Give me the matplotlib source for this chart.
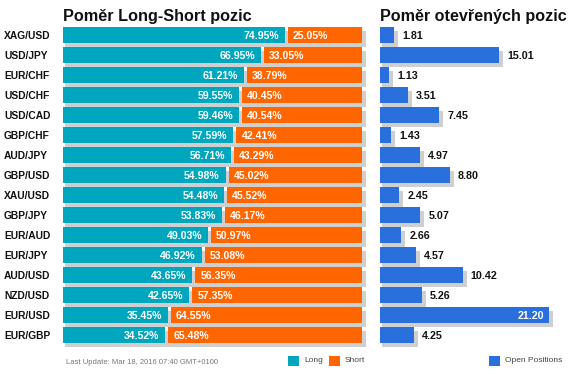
import matplotlib
matplotlib.use('Agg')
import matplotlib.pyplot as plt
from matplotlib.patches import Rectangle
from matplotlib.transforms import blended_transform_factory

plt.rcParams['font.family'] = ['Liberation Sans', 'DejaVu Sans']

pairs = ['XAG/USD', 'USD/JPY', 'EUR/CHF', 'USD/CHF', 'USD/CAD', 'GBP/CHF', 'AUD/JPY', 'GBP/USD',
         'XAU/USD', 'GBP/JPY', 'EUR/AUD', 'EUR/JPY', 'AUD/USD', 'NZD/USD', 'EUR/USD', 'EUR/GBP']
long_pct = [74.95, 66.95, 61.21, 59.55, 59.46, 57.59, 56.71, 54.98,
            54.48, 53.83, 49.03, 46.92, 43.65, 42.65, 35.45, 34.52]
short_pct = [25.05, 33.05, 38.79, 40.45, 40.54, 42.41, 43.29, 45.02,
             45.52, 46.17, 50.97, 53.08, 56.35, 57.35, 64.55, 65.48]
open_pos = [1.81, 15.01, 1.13, 3.51, 7.45, 1.43, 4.97, 8.80,
            2.45, 5.07, 2.66, 4.57, 10.42, 5.26, 21.20, 4.25]

TEAL = '#00A6BE'
ORANGE = '#FF6600'
BLUE = '#2A70DC'
SHADOW = '#CFCFCF'

W, H = 571, 374
fig = plt.figure(figsize=(W / 100, H / 100), dpi=100)

def px_axes(x0, y0, w, h):
    # axes placed in pixel coordinates (y measured from top)
    return fig.add_axes([x0 / W, 1 - (y0 + h) / H, w / W, h / H])

# left panel: 2.96 px per percent
sx_l = 2.96
axl = px_axes(63, 25, 307, 330)
axl.set_xlim(0, 307 / sx_l)
# right panel: 7.95 px per unit
sx_r = 7.95
axr = px_axes(380, 25, 185, 330)
axr.set_xlim(0, 185 / sx_r)
for ax in (axl, axr):
    ax.set_ylim(16.0, -0.5)
    ax.axis('off')

bh = 0.8
dy = 4 / 20  # shadow drop
gap = 3 / sx_l

for i, (lo, sh) in enumerate(zip(long_pct, short_pct)):
    axl.add_patch(Rectangle((2 / sx_l, i - bh / 2 + dy), lo + gap + sh + 2 / sx_l, bh,
                            color=SHADOW, lw=0))
    axl.barh(i, lo, height=bh, color=TEAL, lw=0)
    axl.barh(i, sh, left=lo + gap, height=bh, color=ORANGE, lw=0)
    axl.text(lo - 6 / sx_l, i + 0.03, f'{lo:.2f}%', color='white', fontsize=7.6,
             fontweight='bold', ha='right', va='center')
    axl.text(lo + gap + 5 / sx_l, i + 0.03, f'{sh:.2f}%', color='white', fontsize=7.6,
             fontweight='bold', ha='left', va='center')

tr = blended_transform_factory(fig.transFigure, axl.transData)
for i, p in enumerate(pairs):
    axl.text(4 / W, i + 0.03, p, transform=tr, fontsize=7.4, fontweight='bold',
             ha='left', va='center', color='#111111')

for i, v in enumerate(open_pos):
    axr.add_patch(Rectangle((2 / sx_r, i - bh / 2 + dy), v + 2 / sx_r, bh,
                            color=SHADOW, lw=0))
    axr.barh(i, v, height=bh, color=BLUE, lw=0)
    if v > 20:
        axr.text(v - 4 / sx_r, i + 0.03, f'{v:.2f}', color='white', fontsize=7.7,
                 fontweight='bold', ha='right', va='center')
    else:
        axr.text(v + 8 / sx_r, i + 0.03, f'{v:.2f}', color='#111111', fontsize=7.7,
                 fontweight='bold', ha='left', va='center')

fig.text(63 / W, 1 - 21 / H, 'Poměr Long-Short pozic', fontsize=11.7, fontweight='bold',
         ha='left', va='baseline', color='#111111')
fig.text(380 / W, 1 - 21 / H, 'Poměr otevřených pozic', fontsize=11.6, fontweight='bold',
         ha='left', va='baseline', color='#111111')

fig.text(66 / W, 1 - 363 / H, 'Last Update: Mar 18, 2016 07:40 GMT+0100', fontsize=5.5,
         color='#777777', ha='left', va='center')

def legend_item(x, color, label):
    fig.patches.append(Rectangle((x / W, 1 - 366 / H), 11 / W, 10 / H, color=color, lw=0,
                                 transform=fig.transFigure, figure=fig))
    fig.text((x + 16) / W, 1 - 361 / H, label, fontsize=6, color='#444444',
             ha='left', va='center')

legend_item(288, TEAL, 'Long')
legend_item(329, ORANGE, 'Short')
legend_item(489, BLUE, 'Open Positions')

fig.savefig('out.png', dpi=100)
